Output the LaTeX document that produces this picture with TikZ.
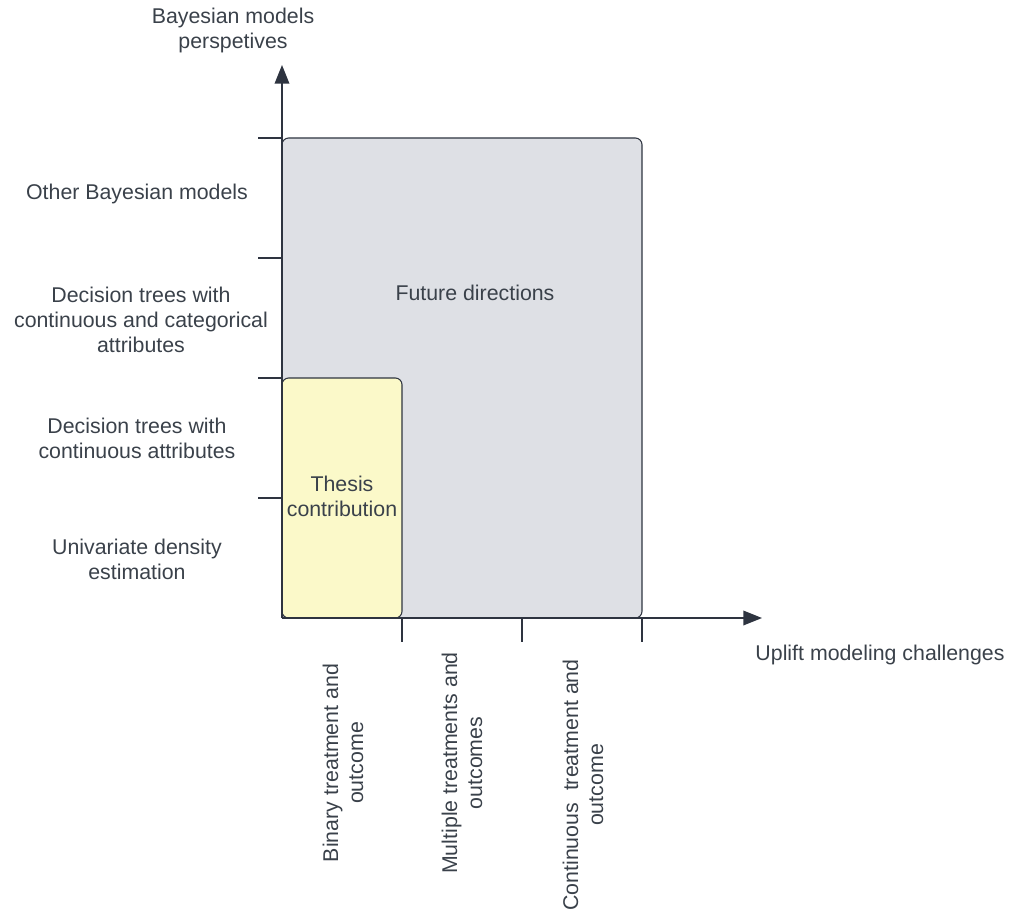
\documentclass[tikz,border=0pt]{standalone}
\usepackage{fontspec}
\setmainfont{Liberation Sans}
\usetikzlibrary{arrows.meta}
\definecolor{ink}{HTML}{3A414A}
\definecolor{axisc}{HTML}{2E3440}
\definecolor{greyfill}{HTML}{DEE0E5}
\definecolor{yellowfill}{HTML}{FBF9C9}
\begin{document}
\begin{tikzpicture}[x=0.75pt,y=-0.75pt,
  lbl/.style={text=ink,font=\fontsize{16}{18.75}\selectfont,align=center,inner sep=0pt},
  axisline/.style={draw=axisc,line width=1pt},
  tick/.style={draw=axisc,line width=0.8pt},
  region/.style={draw=axisc,line width=0.8pt,rounded corners=5pt}]
\useasboundingbox (0,0) rectangle (1010,913);
% regions
\path[region,fill=greyfill] (282,138) rectangle (642,618);
\path[region,fill=yellowfill] (282,378) rectangle (402,618);
\node[lbl] (future) at (475,293) {Future directions};
\node[lbl] (thesis) at (342,496) {Thesis\\contribution};
% axes
\coordinate (o) at (282,618);
\coordinate (ytip) at (282,65);
\coordinate (xtip) at (762,618);
\draw[axisline,-{Triangle[length=14pt,width=11pt]}] (o) -- (ytip);
\draw[axisline,-{Triangle[length=14pt,width=11pt]}] (o) -- (xtip);
% ticks
\foreach \y in {138,258,378,498} \draw[tick] (258,\y) -- (282,\y);
\foreach \x in {402,522,642} \draw[tick] (\x,618) -- (\x,642);
% axis titles
\node[lbl] (ytitle) at (233,30) {Bayesian models\\perspetives};
\node[lbl] (xtitle) at (880,655) {Uplift modeling challenges};
% y categories
\node[lbl] (y4) at (137,194) {Other Bayesian models};
\node[lbl] (y3) at (141,320) {Decision trees with\\continuous and categorical\\attributes};
\node[lbl] (y2) at (137,438) {Decision trees with\\continuous attributes};
\node[lbl] (y1) at (137,559) {Univariate density\\estimation};
% x categories
\node[lbl,rotate=90] (x1) at (343,763) {Binary treatment and\\outcome};
\node[lbl,rotate=90] (x2) at (462,763) {Multiple treatments and\\outcomes};
\node[lbl,rotate=90] (x3) at (583,785) {Continuous\ \ treatment and\\outcome};
\end{tikzpicture}
\end{document}
